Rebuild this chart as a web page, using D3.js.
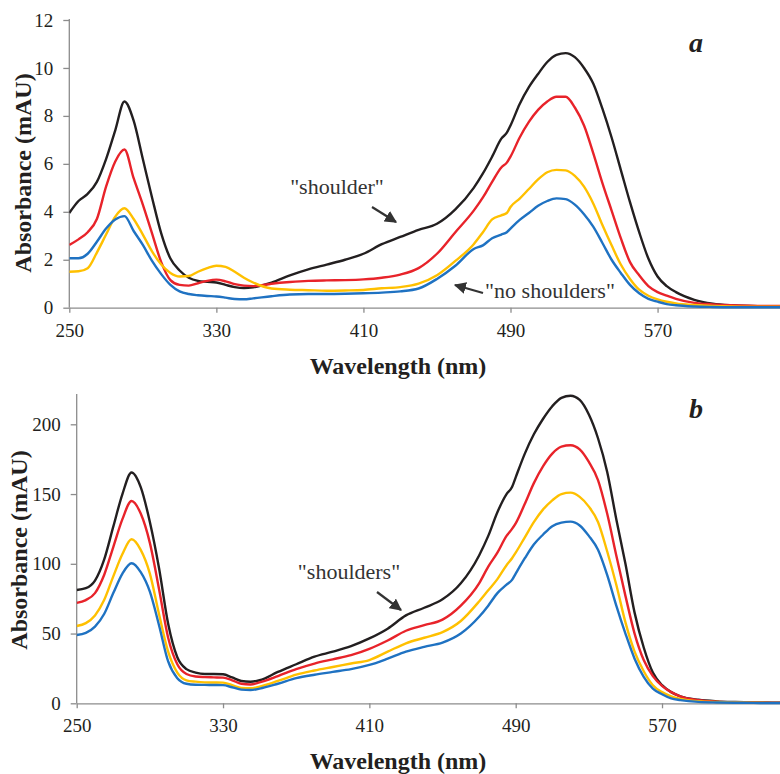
<!DOCTYPE html>
<html>
<head>
<meta charset="utf-8">
<script src="https://cdn.jsdelivr.net/npm/d3@7"></script>
<style>
  html, body { margin: 0; padding: 0; background: #fff; }
  svg { display: block; }
</style>
</head>
<body>
<svg id="chart" width="780" height="774"></svg>
<script>
// ---------- DATA ----------
const wavelengths = [250,255,260,265,270,275,280,285,290,295,300,305,310,315,320,325,330,335,340,345,350,360,370,380,390,400,410,420,430,440,450,460,470,475,480,485,488,490,495,500,505,510,515,520,525,530,535,540,545,550,555,560,565,570,575,580,590,600,610,620,630,640];

// Panel a (mAU)
const aBlack  = [3.95,4.45,4.75,5.25,6.2,7.4,8.6,7.8,6.2,4.6,3.1,2.05,1.55,1.25,1.12,1.08,1.05,0.95,0.86,0.82,0.85,1.05,1.35,1.6,1.8,2.0,2.25,2.65,2.95,3.25,3.5,4.1,5.0,5.6,6.3,7.05,7.3,7.6,8.5,9.2,9.75,10.25,10.55,10.62,10.45,10.0,9.35,8.3,7.1,5.75,4.4,3.15,2.05,1.3,0.9,0.65,0.33,0.17,0.1,0.07,0.06,0.05];
const aRed    = [2.62,2.85,3.15,3.7,5.05,6.1,6.6,5.4,4.3,3.1,1.9,1.15,0.95,0.92,1.02,1.12,1.17,1.1,0.98,0.92,0.9,1.0,1.07,1.12,1.14,1.15,1.18,1.25,1.38,1.65,2.25,3.15,4.05,4.6,5.25,5.85,6.05,6.3,7.1,7.75,8.25,8.6,8.8,8.8,8.35,7.6,6.45,5.2,4.05,2.9,1.9,1.35,0.9,0.65,0.5,0.37,0.2,0.14,0.1,0.08,0.07,0.07];
const aYellow = [1.5,1.52,1.65,2.3,3.05,3.8,4.15,3.7,3.05,2.35,1.8,1.45,1.3,1.32,1.5,1.65,1.75,1.7,1.5,1.25,1.05,0.8,0.75,0.73,0.71,0.72,0.74,0.81,0.86,1.0,1.35,1.95,2.65,3.15,3.68,3.85,3.95,4.2,4.55,4.95,5.35,5.65,5.75,5.73,5.5,5.05,4.35,3.45,2.6,1.8,1.2,0.75,0.5,0.35,0.25,0.18,0.11,0.07,0.05,0.04,0.04,0.04];
const aBlue   = [2.06,2.06,2.25,2.75,3.3,3.68,3.82,3.2,2.62,1.95,1.4,0.95,0.68,0.57,0.52,0.49,0.47,0.42,0.36,0.35,0.39,0.48,0.55,0.57,0.57,0.58,0.6,0.63,0.68,0.8,1.2,1.75,2.45,2.6,2.9,3.05,3.15,3.3,3.66,3.95,4.25,4.45,4.56,4.53,4.3,3.9,3.38,2.7,2.0,1.45,0.95,0.6,0.37,0.25,0.15,0.1,0.05,0.03,0.02,0.02,0.02,0.02];

// Panel b (mAU)
const bBlack  = [81.2,82.5,88,103,126.6,150,165.5,155,130,97,57,33,24.5,22,21,21,20.8,18.5,16,15.5,16.5,22.5,28,33.5,37,41,46.5,53.5,63,68.5,74.5,86,106,120,137,150,155,162,179,193,204,213,219,220.5,217.5,207,190,166,132,100,65,40,22,13,8,5,2.5,1.4,0.9,0.6,0.5,0.4];
const bRed    = [72,74,79,92,112,132,145,136,115,82,47,28,21,19.2,18.8,18.6,18.4,16.5,14,13.5,15,19.5,24.5,28.5,31.5,34.5,39,45,52,56,60,70,86,98,108,120,125,129,143,158,170,179,184,185,182,173,160,136,106,77,50,31,19.5,12.5,8,5,2.2,1.2,0.8,0.6,0.5,0.4];
const bYellow = [55.4,57.5,63,74,91,107,117.6,110,93,64,37,22,16.5,15.5,15,14.9,14.8,13,11,10.8,12,16,20.5,23.5,26,28.5,31,37,43,47,51,59,73,81,89,99,104,108,119,130,139,145.5,150,151,148,141,130,109,85,58,37,23,13,8,5,3.2,1.5,0.9,0.6,0.4,0.3,0.3];
const bBlue   = [49,50.5,55,64,79,93,100.4,94,80,56,30,18,14,13.3,13.2,13.1,13,11.5,9.8,9.5,10.5,14,18,20.5,22.5,24.5,27.5,32,37,40.5,43.5,50,62,70,79,85,88.5,93,104,114,121,127,129.5,130.2,127.5,120,110,92,70,50,32,19,10.5,6.5,3.5,2.3,1.0,0.6,0.4,0.3,0.2,0.2];

const xTicks = [250,330,410,490,570];
const aYTicks = [0,2,4,6,8,10,12];
const bYTicks = [0,50,100,150,200];
const seriesColors = ["#231f20","#e8232a","#ffc000","#1f72c2"];

const FONT = '"Liberation Serif"';

// ---------- DRAW ----------
const svg = d3.select("#chart");

function panel(cfg) {
  const g = svg.append("g");
  const x = d3.scaleLinear().domain([250, cfg.xMax]).range([cfg.left, 780]);
  const y = d3.scaleLinear().domain([0, cfg.yMax]).range([cfg.bottom, cfg.top]);

  const xAxis = d3.axisBottom(x).tickValues(xTicks).tickSize(5).tickSizeOuter(0).tickPadding(cfg.xPad);
  const xg = g.append("g").attr("transform", `translate(0,${cfg.bottom})`).call(xAxis);
  const yAxis = d3.axisLeft(y).tickValues(cfg.yTicks).tickSize(6).tickSizeOuter(0).tickPadding(10);
  const yg = g.append("g").attr("transform", `translate(${cfg.left},0)`).call(yAxis);
  [xg, yg].forEach(a => {
    a.attr("font-family", null);
    a.select(".domain").attr("stroke", "#8c8c8c").attr("stroke-width", 1.3);
    a.selectAll(".tick line").attr("stroke", "#8c8c8c").attr("stroke-width", 1.3);
    a.selectAll(".tick text").style("font-family", FONT).style("font-size", "19px").attr("fill", "#231f20");
  });
  yg.select(".domain").attr("d", `M0,${cfg.bottom}V${cfg.axisTop}`);

  const line = d3.line().x(d => x(d[0])).y(d => y(d[1])).curve(d3.curveMonotoneX);
  const clipId = "clip" + cfg.id;
  svg.append("clipPath").attr("id", clipId).append("rect")
    .attr("x", cfg.left).attr("y", cfg.axisTop - 5).attr("width", 780 - cfg.left).attr("height", cfg.bottom - cfg.axisTop + 8);
  const lg = g.append("g").attr("clip-path", `url(#${clipId})`);
  cfg.series.forEach((vals, i) => {
    lg.append("path")
      .datum(wavelengths.map((w, k) => [w, vals[k]]))
      .attr("fill", "none")
      .attr("stroke", seriesColors[i])
      .attr("stroke-width", 2.4)
      .attr("stroke-linejoin", "round")
      .attr("d", line);
  });

  g.append("text").attr("x", 398).attr("y", cfg.bottom + 66)
    .attr("text-anchor", "middle").style("font-family", FONT).style("font-size", "24px").style("font-weight", "bold")
    .attr("fill", "#231f20").text("Wavelength (nm)");
  g.append("text").attr("transform", `translate(${cfg.yTitleX},${cfg.yTitleY}) rotate(-90)`)
    .attr("text-anchor", "middle").style("font-family", FONT).style("font-size", "24px").style("font-weight", "bold")
    .attr("fill", "#231f20").text("Absorbance (mAU)");

  g.append("text").attr("x", 696).attr("y", cfg.labelY)
    .attr("text-anchor", "middle").style("font-family", FONT).style("font-size", "28px").style("font-weight", "bold").style("font-style", "italic")
    .attr("fill", "#231f20").text(cfg.label);
  return g;
}

panel({id:"a", xMax:636.6, left:69.3, top:20, bottom:307.7, axisTop:19, yMax:12, yTicks:aYTicks, xPad:11,
  series:[aBlack,aRed,aYellow,aBlue], yTitleX:31, yTitleY:173, label:"a", labelY:52});
panel({id:"b", xMax:634.5, left:76.7, top:424.3, bottom:703.3, axisTop:394, yMax:200, yTicks:bYTicks, xPad:10,
  series:[bBlack,bRed,bYellow,bBlue], yTitleX:27, yTitleY:550, label:"b", labelY:418});

// ---------- ANNOTATIONS ----------
const defs = svg.append("defs");
defs.append("marker").attr("id","arr").attr("viewBox","0 0 10 10").attr("refX",9).attr("refY",5)
  .attr("markerWidth",5.5).attr("markerHeight",5.5).attr("orient","auto-start-reverse")
  .append("path").attr("d","M0,0L10,5L0,10z").attr("fill","#333");

function note(txt, tx, ty, x1, y1, x2, y2) {
  svg.append("text").attr("x", tx).attr("y", ty).attr("text-anchor", "middle")
    .style("font-family", FONT).style("font-size", "22px").attr("fill", "#333").text(txt);
  svg.append("line").attr("x1", x1).attr("y1", y1).attr("x2", x2).attr("y2", y2)
    .attr("stroke", "#333").attr("stroke-width", 2.2).attr("marker-end", "url(#arr)");
}
note('"shoulder"', 337, 194, 372, 207, 396, 222);
note('"no shoulders"', 550, 298, 483, 293, 455, 285);
note('"shoulders"', 349, 579, 377, 592, 401, 610);
</script>
</body>
</html>
